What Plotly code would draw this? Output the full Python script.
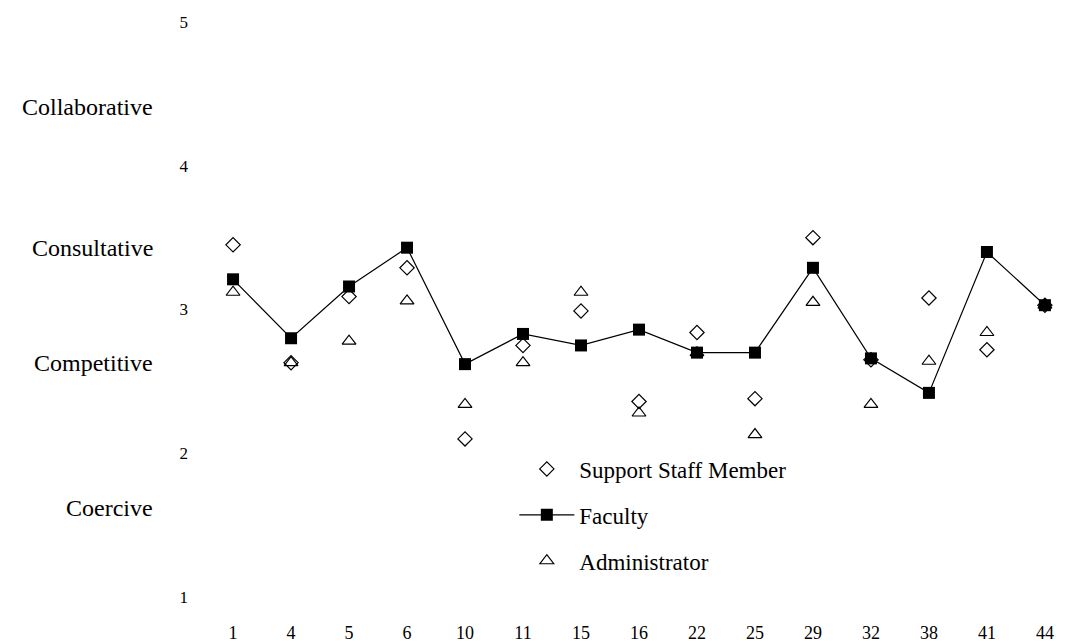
import plotly.graph_objects as go

categories = ["1", "4", "5", "6", "10", "11", "15", "16", "22", "25", "29", "32", "38", "41", "44"]
support_staff = [3.45, 2.63, 3.09, 3.29, 2.10, 2.75, 2.99, 2.36, 2.84, 2.38, 3.50, 2.65, 3.08, 2.72, 3.03]
faculty = [3.21, 2.80, 3.16, 3.43, 2.62, 2.83, 2.75, 2.86, 2.70, 2.70, 3.29, 2.66, 2.42, 3.40, 3.03]
administrator = [3.12, 2.63, 2.78, 3.06, 2.34, 2.63, 3.12, 2.28, 2.70, 2.13, 3.05, 2.34, 2.64, 2.84, 3.03]
y_tick_values = [1, 2, 3, 4, 5]
style_labels = ["Coercive", "Competitive", "Consultative", "Collaborative"]
style_positions = [1.62, 2.63, 3.43, 4.41]

FONT = "Liberation Serif"
x_idx = list(range(len(categories)))

fig = go.Figure()
fig.add_trace(go.Scatter(
    x=x_idx, y=support_staff, mode="markers", name="Support Staff Member",
    legendgroup="a",
    marker=dict(symbol="diamond-open", size=11, color="black", line=dict(width=1.2, color="black")),
))
fig.add_trace(go.Scatter(
    x=x_idx, y=faculty, mode="lines+markers", name="Faculty",
    legendgroup="b",
    line=dict(color="black", width=1.2),
    marker=dict(symbol="square", size=12, color="black"),
))
fig.add_trace(go.Scatter(
    x=x_idx, y=administrator, mode="markers", name="Administrator",
    legendgroup="c",
    marker=dict(symbol="triangle-up-open", size=12, color="black", line=dict(width=1.2, color="black")),
))

for lab, pos in zip(style_labels, style_positions):
    fig.add_annotation(
        text=lab, xref="paper", yref="y", x=-0.052, y=pos, xanchor="right", yanchor="middle",
        showarrow=False, font=dict(family=FONT, size=24, color="black"),
    )

fig.update_layout(
    width=1070, height=641,
    margin=dict(l=192, r=18, t=14, b=52),
    paper_bgcolor="white", plot_bgcolor="white",
    font=dict(family=FONT, color="black"),
    showlegend=True,
    legend=dict(
        x=0.3655, y=0.26, xanchor="left", yanchor="top",
        font=dict(family=FONT, size=23, color="black"),
        bgcolor="rgba(0,0,0,0)", traceorder="grouped", tracegroupgap=13,
        itemwidth=55,
    ),
    xaxis=dict(
        range=[-0.57, 14.26], tickmode="array", tickvals=x_idx, ticktext=categories,
        showgrid=False, zeroline=False, showline=False, ticks="", automargin=False,
        tickfont=dict(family=FONT, size=18, color="black"), ticklabelstandoff=23,
    ),
    yaxis=dict(
        range=[1, 5], tickmode="array", tickvals=y_tick_values,
        ticktext=[str(v) for v in y_tick_values],
        showgrid=False, zeroline=False, showline=False, ticks="", automargin=False,
        tickfont=dict(family=FONT, size=17, color="black"), ticklabelstandoff=11,
    ),
)

fig.write_html("out.html")
